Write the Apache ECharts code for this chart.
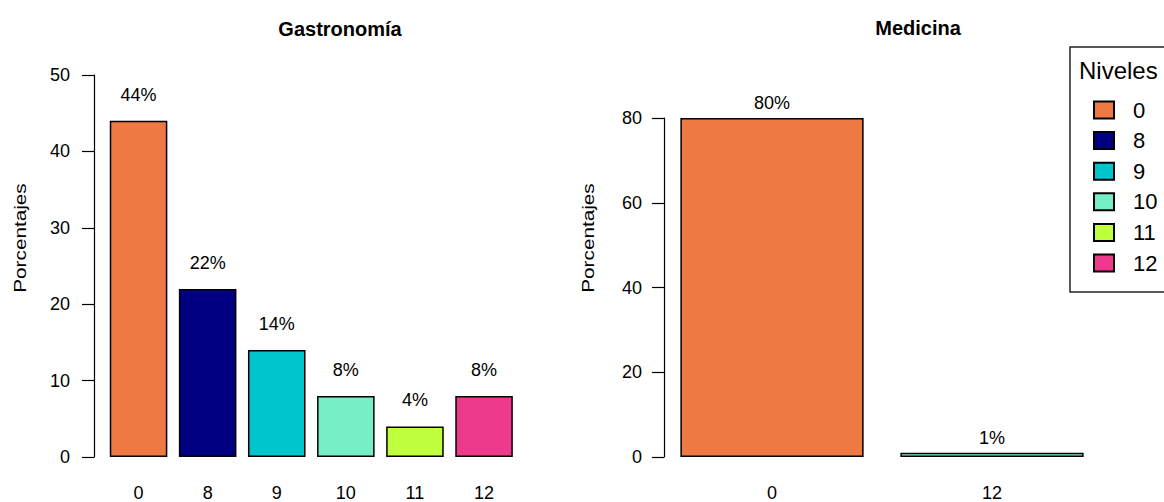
<!DOCTYPE html>
<html>
<head>
<meta charset="utf-8">
<script src="https://cdn.jsdelivr.net/npm/echarts@6/dist/echarts.min.js"></script>
<style>
html,body{margin:0;padding:0;background:#fff;}
#chart{width:1164px;height:502px;}
</style>
</head>
<body>
<div id="chart"></div>
<script>
const levels = ['0', '8', '9', '10', '11', '12'];
const levelColors = ['#EE7942', '#000080', '#00C5CD', '#76EEC6', '#C0FF3E', '#EE3A8C'];
const gastroCats = ['0', '8', '9', '10', '11', '12'];
const gastroVals = [44, 22, 14, 8, 4, 8];
const gastroColors = ['#EE7942', '#000080', '#00C5CD', '#76EEC6', '#C0FF3E', '#EE3A8C'];
const medCats = ['0', '12'];
const medVals = [80, 1];
const medColors = ['#EE7942', '#76EEC6'];
const titles = ['Gastronomía', 'Medicina'];
const yName = 'Porcentajes';
const legendTitle = 'Niveles';

const FONT = '"Liberation Sans", Arial, sans-serif';
const chart = echarts.init(document.getElementById('chart'), null, {renderer: 'svg'});

function yAxis(gridIndex, max, interval, offset, margin) {
  return {
    type: 'value', gridIndex: gridIndex, min: 0, max: max, interval: interval, offset: offset,
    axisLine: {show: true, lineStyle: {color: '#000', width: 1.2}},
    axisTick: {show: true, length: 12, lineStyle: {color: '#000', width: 1.2}},
    axisLabel: {margin: margin, color: '#000', fontSize: 18, fontFamily: FONT},
    splitLine: {show: false}
  };
}
function xAxis(gridIndex, cats) {
  return {
    type: 'category', gridIndex: gridIndex, data: cats,
    axisLine: {show: false}, axisTick: {show: false},
    axisLabel: {margin: 27, color: '#000', fontSize: 18, fontFamily: FONT}
  };
}
function barSeries(idx, vals, colors, dist) {
  return {
    type: 'bar', xAxisIndex: idx, yAxisIndex: idx, barWidth: '83.3%', barGap: '-100%',
    data: vals.map((v, i) => ({value: v, itemStyle: {color: colors[i]}})),
    itemStyle: {borderColor: '#000', borderWidth: 1.5},
    label: {show: true, position: 'top', distance: dist, formatter: '{c}%', color: '#000', fontSize: 18, fontFamily: FONT},
    silent: true, animation: false
  };
}

const legendSeries = levels.map((lv, i) => ({
  type: 'bar', name: lv, xAxisIndex: 0, yAxisIndex: 0, data: [],
  barWidth: '83.3%', barGap: '-100%',
  itemStyle: {color: levelColors[i], borderColor: '#000', borderWidth: 1.5}
}));

chart.setOption({
  animation: false,
  grid: [
    {left: 104, top: 75, width: 414.6, height: 383},
    {left: 662, top: 118, width: 440, height: 340}
  ],
  xAxis: [xAxis(0, gastroCats), xAxis(1, medCats)],
  yAxis: [yAxis(0, 50, 10, 10, 24), yAxis(1, 80, 20, -2, 22)],
  legend: {
    orient: 'vertical', left: 1093, top: 99, icon: 'rect',
    itemWidth: 20, itemHeight: 17, itemGap: 8.6, padding: 0,
    textStyle: {fontSize: 22, lineHeight: 21, color: '#000', fontFamily: FONT, padding: [0, 0, 0, 14]},
    data: levels, selectedMode: false
  },
  series: [barSeries(0, gastroVals, gastroColors, 17), barSeries(1, medVals, medColors, 6)].concat(legendSeries),
  graphic: [
    {type: 'text', x: 340, y: 29, style: {text: titles[0], fill: '#000', font: 'bold 20px ' + FONT, textAlign: 'center', textVerticalAlign: 'middle'}},
    {type: 'text', x: 918, y: 28, style: {text: titles[1], fill: '#000', font: 'bold 20px ' + FONT, textAlign: 'center', textVerticalAlign: 'middle'}},
    {type: 'text', x: 20, y: 238, rotation: Math.PI / 2, scaleX: 1.22, style: {text: yName, fill: '#000', font: '17px ' + FONT, textAlign: 'center', textVerticalAlign: 'middle'}},
    {type: 'text', x: 588, y: 238, rotation: Math.PI / 2, scaleX: 1.22, style: {text: yName, fill: '#000', font: '17px ' + FONT, textAlign: 'center', textVerticalAlign: 'middle'}},
    {type: 'rect', shape: {x: 1070, y: 47, width: 200, height: 245}, style: {fill: 'none', stroke: '#222', lineWidth: 1.5}},
    {type: 'text', x: 1079, y: 70, style: {text: legendTitle, fill: '#000', font: '24px ' + FONT, textAlign: 'left', textVerticalAlign: 'middle'}}
  ]
});
</script>
</body>
</html>
